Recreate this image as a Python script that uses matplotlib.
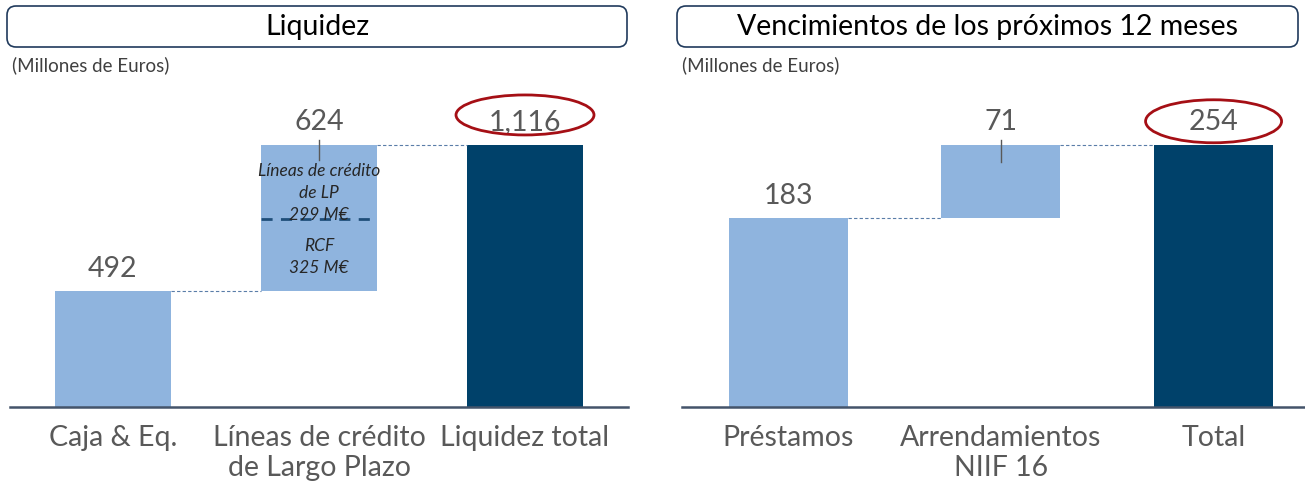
import matplotlib
matplotlib.use("Agg")
import matplotlib.pyplot as plt
from matplotlib.patches import FancyBboxPatch, Ellipse
from matplotlib.transforms import IdentityTransform

plt.rcParams['font.family'] = ['Lato', 'DejaVu Sans']

# datos
liq_cats = ['Caja & Eq.', 'Líneas de crédito\nde Largo Plazo', 'Liquidez total']
liq_vals = [492, 624, 1116]
liq_rcf = 325
liq_lp = 299
ven_cats = ['Préstamos', 'Arrendamientos\nNIIF 16', 'Total']
ven_vals = [183, 71, 254]

LIGHT = '#8FB4DE'
DARK = '#00416A'
GREY = '#595959'
RED = '#A50F15'
CONN = '#5A7DA8'

W, H = 1305, 486
fig = plt.figure(figsize=(W / 100, H / 100), dpi=100)


def px_axes(x0, x1, ybase, ytop):
    return fig.add_axes([x0 / W, (H - ybase) / H, (x1 - x0) / W, (ybase - ytop) / H])


def waterfall(ax, cats, vals, ymax, xlim):
    bottoms = [0, vals[0], 0]
    colors = [LIGHT, LIGHT, DARK]
    bw = 0.56
    ax.bar(range(3), vals, bottom=bottoms, width=bw, color=colors, zorder=2)
    # conectores
    ax.plot([bw / 2, 1 - bw / 2], [vals[0], vals[0]], ls=(0, (3, 2)), color=CONN, lw=0.8)
    ax.plot([1 + bw / 2, 2 - bw / 2], [vals[2], vals[2]], ls=(0, (3, 2)), color=CONN, lw=0.8)
    tops = [vals[0], vals[0] + vals[1], vals[2]]
    for i, v in enumerate(vals):
        ax.annotate(f'{v:,}', (i, tops[i]), xytext=(0, 7), textcoords='offset points',
                    ha='center', va='bottom', fontsize=20.5, color=GREY)
    ax.set_xlim(*xlim)
    ax.set_ylim(0, ymax)
    ax.set_xticks(range(3))
    ax.set_xticklabels(cats, fontsize=20.5, color=GREY, linespacing=1.2)
    ax.tick_params(axis='x', length=0, pad=13)
    ax.set_yticks([])
    for s in ['top', 'left', 'right']:
        ax.spines[s].set_visible(False)
    ax.spines['bottom'].set_color('#44546A')
    ax.spines['bottom'].set_linewidth(1.8)


def ellipse(ax, x, y, wpx, hpx):
    # tamano en pixeles -> datos
    x0, y0 = ax.transData.inverted().transform((0, 0))
    x1, y1 = ax.transData.inverted().transform((wpx, hpx))
    e = Ellipse((x, y), x1 - x0, y1 - y0, fill=False, ec=RED, lw=2, clip_on=False, zorder=5)
    ax.add_patch(e)


def tick(ax, x, y, up, down):
    ax.plot([x, x], [y + up, y - down], color=GREY, lw=1, zorder=4, clip_on=False)


# panel izquierdo
ax1 = px_axes(10, 628, 407, 100)
waterfall(ax1, liq_cats, liq_vals, liq_vals[2] * 307 / 262, (-0.5, 2.5))
tick(ax1, 1, liq_vals[2], 22, 64)
ax1.plot([0.72, 1.28], [liq_vals[0] + liq_rcf - 15] * 2, ls=(0, (4, 3)), color='#1F4E79', lw=2, zorder=3)
ax1.text(1, liq_vals[2] - 205, f'Líneas de crédito\nde LP\n{liq_lp} M€',
         ha='center', va='center', fontsize=12.5, style='italic', color='#262626', linespacing=1.48)
ax1.text(1, liq_vals[0] + 147, f'RCF\n{liq_rcf} M€', ha='center', va='center',
         fontsize=12.5, style='italic', color='#262626', linespacing=1.48)
ellipse(ax1, 2.0, liq_vals[2] + 128, 138, 40)

# panel derecho
ax2 = px_axes(682, 1305, 407, 100)
waterfall(ax2, ven_cats, ven_vals, ven_vals[2] * 307 / 262, (-0.5, 2.43))
tick(ax2, 1, ven_vals[2], 5, 16)
ellipse(ax2, 2.0, ven_vals[2] + 23, 136, 43)

# cajas de titulo
for x0, x1, title in [(7, 627, 'Liquidez'), (677, 1298, 'Vencimientos de los próximos 12 meses')]:
    box = FancyBboxPatch((x0, H - 47), x1 - x0, 41, boxstyle='round,pad=0,rounding_size=9',
                         transform=IdentityTransform(), fc='white', ec='#203A5C', lw=1.2)
    fig.add_artist(box)
    fig.text((x0 + x1) / 2 / W, (H - 27) / H, title, ha='center', va='center',
             fontsize=20.5, color='black')
    fig.text((x0 + 5) / W, (H - 65) / H, '(Millones de Euros)', ha='left', va='center',
             fontsize=13.5, color='#404040')

fig.savefig('out.png', dpi=100)
